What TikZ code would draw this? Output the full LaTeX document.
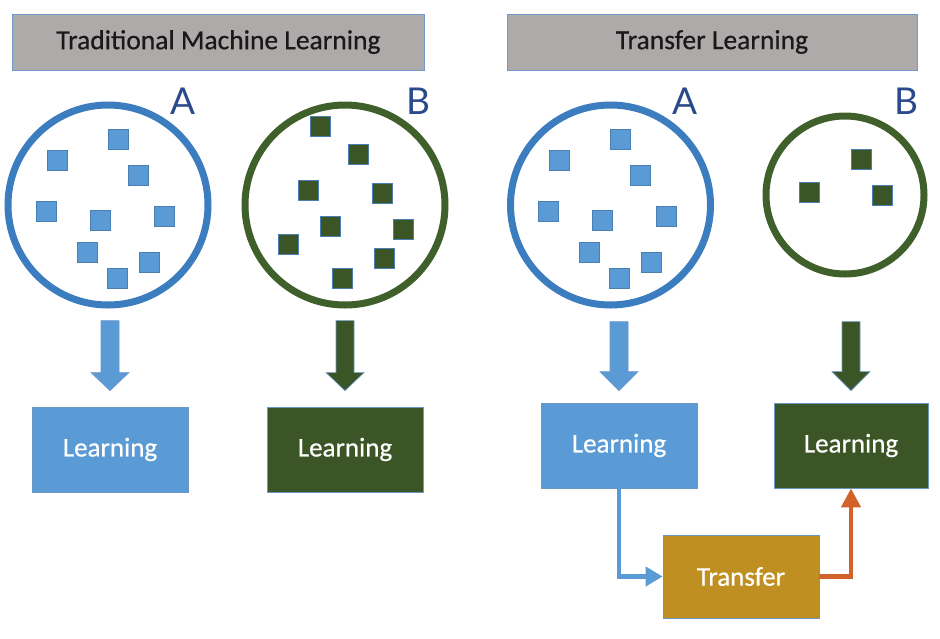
\documentclass[tikz,border=0pt]{standalone}
\usepackage{fontspec}
\setmainfont{Carlito}[FakeBold=0.6]
\newfontfamily\letterfont{Lato}
\usetikzlibrary{arrows.meta,calc}
\definecolor{blueFill}{HTML}{5B9BD5}
\definecolor{blueStroke}{HTML}{3C7DC0}
\definecolor{blueEdge}{HTML}{4A7FB3}
\definecolor{greenFill}{HTML}{3B5526}
\definecolor{greenStroke}{HTML}{40602B}
\definecolor{titleFill}{HTML}{AEAAAA}
\definecolor{titleEdge}{HTML}{7099C8}
\definecolor{transFill}{HTML}{BF8F22}
\definecolor{orangeLine}{HTML}{D2622A}
\definecolor{letterCol}{HTML}{2A4A8C}
\definecolor{boxEdge}{HTML}{6A98C9}
\tikzset{
  titlebox/.style={draw=titleEdge,line width=1pt,fill=titleFill,minimum width=412pt,minimum height=56pt,inner sep=0pt,font=\fontsize{27.5}{32}\selectfont,text=black!90},
  setcircle/.style={circle,line width=7pt,inner sep=0pt},
  sq/.style={draw=blueEdge,line width=0.7pt,minimum size=20pt,inner sep=0pt},
  bsq/.style={sq,fill=blueFill},
  gsq/.style={sq,fill=greenFill},
  learnbox/.style={draw=boxEdge,line width=0.8pt,minimum width=156pt,minimum height=85pt,inner sep=0pt,text=white,font=\fontsize{27}{32}\selectfont},
  letter/.style={text=letterCol,font=\letterfont\fontsize{37}{40}\selectfont,inner sep=0pt},
  flowline/.style={line width=4.5pt}
}
\newcommand{\blockarrow}[5]{%
  \begin{scope}[shift={(#1.north)}]
    \filldraw[fill=#2,draw=boxEdge,line width=0.6pt]
      (-9,-#3) -- (9,-#3) -- (9,-#4) -- (19,-#4) -- (0,-#5) -- (-19,-#4) -- (-9,-#4) -- cycle;
  \end{scope}}
\begin{document}
\begin{tikzpicture}[x=1pt,y=-1pt]
\useasboundingbox (0,0) rectangle (940,638);
% titles
\node[titlebox] (t1) at (218.5,42) {Traditional Machine Learning};
\node[titlebox,minimum width=410pt] (t2) at (712,42) {Transfer Learning};
% circles
\node[setcircle,draw=blueStroke,minimum size=200pt] (c1) at (108,205) {};
\node[setcircle,draw=greenStroke,minimum size=200pt] (c2) at (345,205) {};
\node[setcircle,draw=blueStroke,minimum size=200pt] (c3) at (610.5,205) {};
\node[setcircle,draw=greenStroke,minimum size=158pt] (c4) at (845,195) {};
% letters
\node[letter] (la1) at (183,101) {A};
\node[letter] (lb1) at (418,101) {B};
\node[letter] (la2) at (685,101) {A};
\node[letter] (lb2) at (906,101) {B};
% squares in both A sets
\foreach \x/\y [count=\i] in {118/139,57/160,138/175,46/211,100/220,164/216,87/252,149/262,117/278}{
  \node[bsq] (sa\i) at (\x,\y) {};
  \node[bsq] (sr\i) at (\x+502,\y) {};
}
% squares left B
\foreach \x/\y [count=\i] in {320/126,358/154,308/190,382/193,330/226,403/229,288/244,384/258,342/278}{
  \node[gsq] (sb\i) at (\x,\y) {};
}
% squares right B
\foreach \x/\y [count=\i] in {861/159,809/192,882/195}{
  \node[gsq] (sg\i) at (\x,\y) {};
}
% learning boxes
\node[learnbox,fill=blueFill] (L1) at (110,449.5) {Learning};
\node[learnbox,fill=greenFill] (L2) at (345,449.5) {Learning};
\node[learnbox,fill=blueFill] (L3) at (619,445.5) {Learning};
\node[learnbox,fill=greenFill,minimum width=154pt] (L4) at (851,445.5) {Learning};
\node[learnbox,fill=transFill,minimum height=83pt] (T) at (741,576.5) {Transfer};
% block arrows
\blockarrow{L1}{blueFill}{86}{34}{16}
\blockarrow{L2}{greenFill}{86}{34}{16}
\blockarrow{L3}{blueFill}{81}{31}{12}
\blockarrow{L4}{greenFill}{81}{31}{12}
% flow connectors
\draw[flowline,draw=blueFill,-{Triangle[length=17pt,width=19pt]}] (L3.south) |- (T.west);
\draw[flowline,draw=orangeLine,-{Triangle[length=19pt,width=19pt]}] (T.east) -| (L4.south);
\end{tikzpicture}
\end{document}
